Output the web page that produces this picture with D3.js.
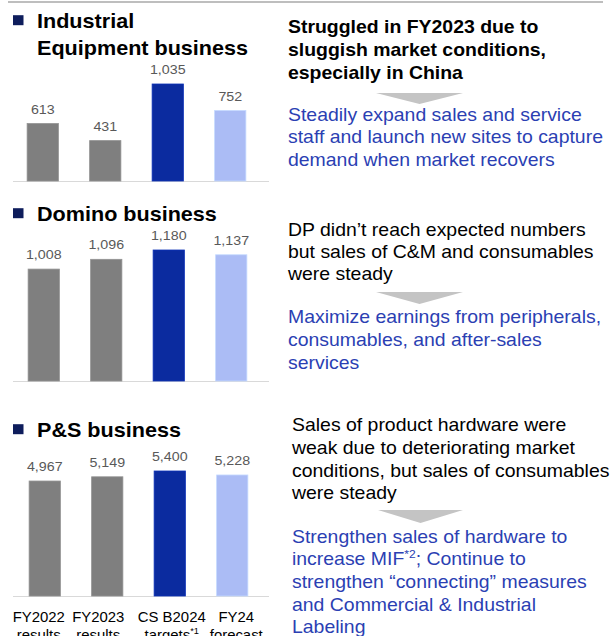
<!DOCTYPE html>
<html lang="en">
<head>
<meta charset="UTF-8">
<title>Business segments</title>
<script src="https://d3js.org/d3.v7.min.js"></script>
<style>
    body { margin: 0; background: #fff; }
    svg { display: block; font-family: "Liberation Sans", Arial, sans-serif; }
</style>
</head>
<body>
<script>
    // data
    var catLine1 = ["FY2022", "FY2023", "CS B2024", "FY24"];
    var catLine2 = ["results", "results", "targets^*1^", "forecast"];
    var industrialValues = [613, 431, 1035, 752];
    var dominoValues = [1008, 1096, 1180, 1137];
    var psValues = [4967, 5149, 5400, 5228];
    var barColors = ["#7f7f7f", "#7f7f7f", "#0b2b9f", "#abbcf5"];

    var industrialTitle = ["Industrial", "Equipment business"];
    var dominoTitle = ["Domino business"];
    var psTitle = ["P&S business"];

    var industrialResult = ["Struggled in FY2023 due to", "sluggish market conditions,", "especially in China"];
    var industrialPlan = ["Steadily expand sales and service", "staff and launch new sites to capture", "demand when market recovers"];
    var dominoResult = ["DP didn\u2019t reach expected numbers", "but sales of C&M and consumables", "were steady"];
    var dominoPlan = ["Maximize earnings from peripherals,", "consumables, and after-sales", "services"];
    var psResult = ["Sales of product hardware were", "weak due to deteriorating market", "conditions, but sales of consumables", "were steady"];
    var psPlan = ["Strengthen sales of hardware to", "increase MIF^*2^; Continue to", "strengthen \u201cconnecting\u201d measures", "and Commercial & Industrial", "Labeling"];

    const W = 613, H = 636;
    const SX = 1.08; // text in the picture is slightly wide
    const blue = "#2b3fb3";
    // category labels sit a little off their bar centres
    const catShift = [-6, -9, 2, 4];

    var svg = d3.select("body").append("svg").attr("width", W).attr("height", H);

    svg.append("line").attr("x1", 8).attr("x2", 603).attr("y1", 2).attr("y2", 2)
        .attr("stroke", "#a8a8a8").attr("stroke-width", 1.5);

    // text with ^superscript^ parts
    function txt(g, x, y, str, o) {
        var t = g.append("text")
            .attr("transform", "translate(" + x + "," + y + ") scale(" + SX + ",1)")
            .attr("font-size", o.size)
            .attr("font-weight", o.weight || "normal")
            .attr("fill", o.fill || "#000")
            .attr("text-anchor", o.anchor || "start");
        var parts = str.split("^");
        parts.forEach(function (p, i) {
            if (!p) return;
            var s = t.append("tspan").text(p);
            if (i % 2 == 1) {
                s.attr("font-size", o.size * 0.62).attr("dy", -o.size * 0.4);
            } else if (i > 0) {
                s.attr("dy", o.size * 0.4);
            }
        });
        return t;
    }

    function panel(p) {
        var g = svg.append("g");

        // title
        g.append("rect").attr("x", 13).attr("y", p.titleY[0] - 12.5).attr("width", 10.5).attr("height", 10)
            .attr("fill", "#0e1d5c");
        p.title.forEach(function (s, i) {
            txt(g, 37, p.titleY[i], s, {size: 20, weight: "bold"});
        });

        // bars
        var x = d3.scaleBand().domain(catLine1).range(p.xRange).paddingInner(0.5).paddingOuter(0.25);
        var y = d3.scaleLinear().domain([0, d3.max(p.values)]).range([p.base, p.top]);

        g.append("line").attr("x1", 13).attr("x2", 269).attr("y1", p.base + 0.5).attr("y2", p.base + 0.5)
            .attr("stroke", "#d9d9d9").attr("stroke-width", 1);

        g.selectAll("rect.bar")
            .data(p.values)
            .enter()
            .append("rect")
            .attr("class", "bar")
            .attr("x", function (d, i) { return x(catLine1[i]); })
            .attr("y", function (d) { return y(d); })
            .attr("width", x.bandwidth())
            .attr("height", function (d) { return y(0) - y(d); })
            .attr("fill", function (d, i) { return barColors[i]; })
            .attr("stroke", function (d, i) { return d3.color(barColors[i]).brighter(0.4); })
            .attr("stroke-width", 0.8);

        p.values.forEach(function (d, i) {
            txt(g, x(catLine1[i]) + x.bandwidth() / 2, y(d) - 10, d3.format(",")(d),
                {size: 13.2, fill: "#595959", anchor: "middle"});
        });

        if (p.cats) {
            catLine1.forEach(function (c, i) {
                var cx = x(c) + x.bandwidth() / 2 + catShift[i];
                txt(g, cx, p.base + 26, c, {size: 13.8, anchor: "middle"});
                txt(g, cx, p.base + 44, catLine2[i], {size: 13.8, anchor: "middle"});
            });
        }

        // comments on the right
        p.result.forEach(function (s, i) {
            txt(g, p.textX, p.resultY + i * p.lineH, s, {size: 18, weight: p.bold ? "bold" : "normal"});
        });
        var ay = p.arrowY;
        g.append("polygon")
            .attr("points", [[p.arrowX[0], ay], [p.arrowX[1], ay], [(p.arrowX[0] + p.arrowX[1]) / 2, ay + p.arrowH]].join(" "))
            .attr("fill", "#c4c4c4");
        p.plan.forEach(function (s, i) {
            txt(g, p.textX, p.planY + i * 22.6, s, {size: 18, fill: blue});
        });
    }

    panel({
        title: industrialTitle, titleY: [27.7, 55], values: industrialValues,
        xRange: [11.5, 261.5], base: 181, top: 84,
        result: industrialResult, resultY: 33.3, lineH: 23, bold: true,
        arrowY: 93, arrowH: 11, arrowX: [376, 463],
        plan: industrialPlan, planY: 120.7, textX: 288
    });
    panel({
        title: dominoTitle, titleY: [220.7], values: dominoValues,
        xRange: [12.5, 262.5], base: 381, top: 250,
        result: dominoResult, resultY: 235.7, lineH: 22.3,
        arrowY: 292, arrowH: 12, arrowX: [376, 463],
        plan: dominoPlan, planY: 323.3, textX: 288
    });
    panel({
        title: psTitle, titleY: [436.7], values: psValues,
        xRange: [13.5, 263.5], base: 596, top: 471, cats: true,
        result: psResult, resultY: 430.7, lineH: 22.9,
        arrowY: 510, arrowH: 13, arrowX: [378, 463],
        plan: psPlan, planY: 542.7, textX: 292
    });
</script>
</body>
</html>
